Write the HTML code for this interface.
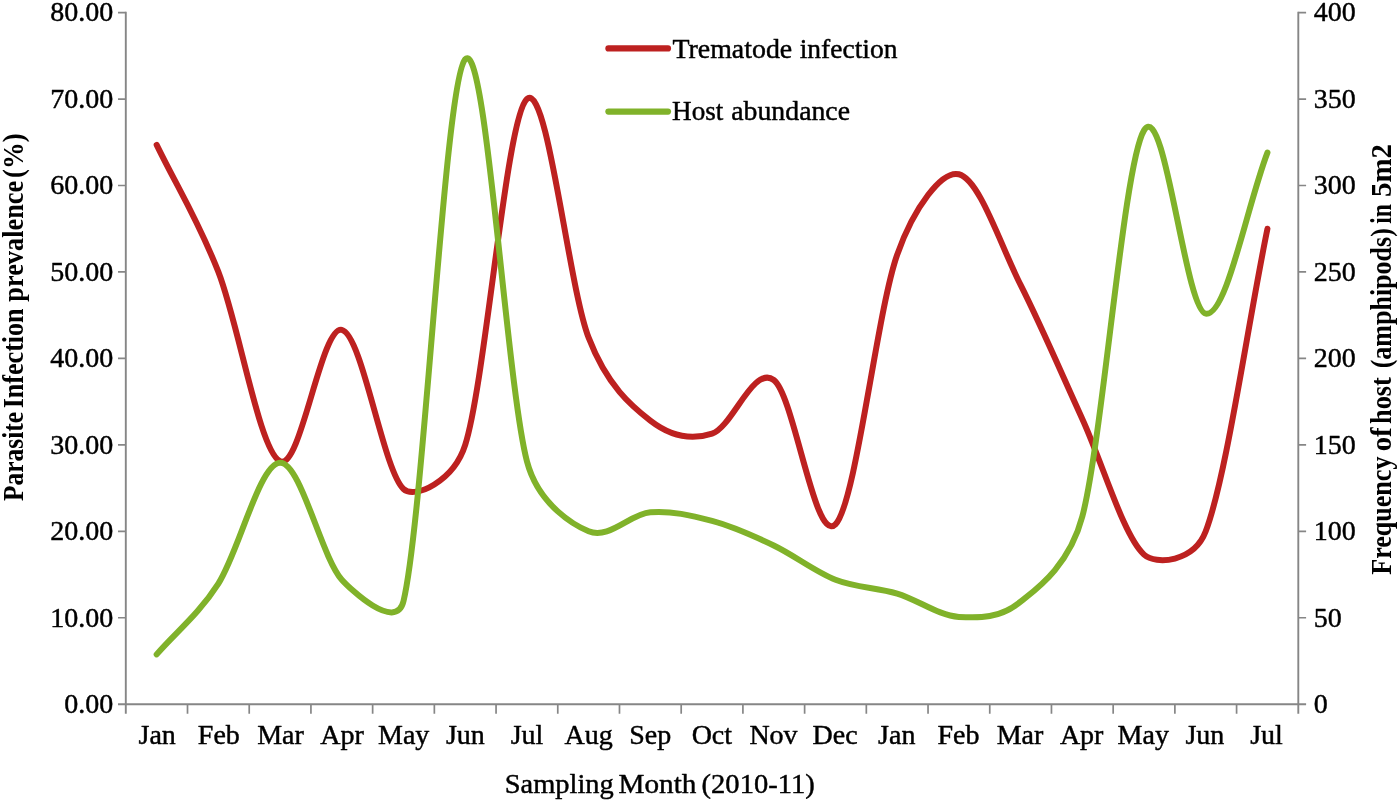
<!DOCTYPE html>
<html><head><meta charset="utf-8"><title>chart</title>
<style>
html,body{margin:0;padding:0;background:#fff;overflow:hidden;}
svg{display:block;will-change:transform;}
text{font-family:"Liberation Serif",serif;fill:#000;stroke:#000;stroke-linejoin:round;}
.l{font-size:28px;stroke-width:0.45;}
.t{stroke-width:0.00;}
</style></head><body>
<svg width="1400" height="802" viewBox="0 0 1400 802">
<rect width="1400" height="802" fill="#fff"/>
<g stroke="#868686" stroke-width="1.9" fill="none">
<path d="M125.80,11.80 V713.70"/>
<path d="M1298.30,11.80 V713.70"/>
<path d="M118.00,704.20 H1306.10"/>
</g>
<path d="M118.00,12.60 H125.80 M1298.30,12.60 H1306.10 M118.00,99.05 H125.80 M1298.30,99.05 H1306.10 M118.00,185.50 H125.80 M1298.30,185.50 H1306.10 M118.00,271.95 H125.80 M1298.30,271.95 H1306.10 M118.00,358.40 H125.80 M1298.30,358.40 H1306.10 M118.00,444.85 H125.80 M1298.30,444.85 H1306.10 M118.00,531.30 H125.80 M1298.30,531.30 H1306.10 M118.00,617.75 H125.80 M1298.30,617.75 H1306.10 M187.51,704.20 V713.70 M249.22,704.20 V713.70 M310.93,704.20 V713.70 M372.64,704.20 V713.70 M434.35,704.20 V713.70 M496.06,704.20 V713.70 M557.77,704.20 V713.70 M619.48,704.20 V713.70 M681.19,704.20 V713.70 M742.91,704.20 V713.70 M804.62,704.20 V713.70 M866.33,704.20 V713.70 M928.04,704.20 V713.70 M989.75,704.20 V713.70 M1051.46,704.20 V713.70 M1113.17,704.20 V713.70 M1174.88,704.20 V713.70 M1236.59,704.20 V713.70 " stroke="#868686" stroke-width="1.7" fill="none"/>
<path d="M156.66,144.87 C177.23,187.23 197.80,219.22 218.37,271.95 C238.94,324.68 259.51,451.62 280.08,461.28 C300.65,470.93 321.22,325.26 341.79,329.87 C362.36,334.48 382.93,469.78 403.50,488.94 C414.94,499.60 453.76,481.00 465.21,444.85 C485.78,379.87 506.35,116.92 526.92,99.05 C547.49,81.18 568.06,284.05 588.63,337.65 C607.16,385.93 631.81,406.24 650.34,420.64 C670.91,436.64 691.48,440.38 712.05,433.61 C732.62,426.84 753.19,364.88 773.76,380.01 C794.33,395.14 814.90,545.28 835.47,524.38 C856.04,503.49 876.61,313.01 897.18,254.66 C914.03,206.87 942.04,170.13 958.89,174.26 C979.46,179.30 1000.03,244.14 1020.60,284.92 C1041.17,325.69 1061.74,373.96 1082.31,418.92 C1102.88,463.87 1123.45,535.91 1144.02,554.64 C1155.71,565.28 1194.05,562.15 1205.73,531.30 C1226.30,476.98 1246.87,329.58 1267.44,228.73" fill="none" stroke="#bd2120" stroke-width="6.0" stroke-linecap="round" stroke-linejoin="round"/>
<path d="M156.66,654.40 C177.23,630.78 197.80,615.44 218.37,583.52 C238.94,551.59 259.51,463.47 280.08,462.83 C300.65,462.20 321.22,556.66 341.79,579.71 C349.32,588.16 395.96,632.93 403.50,601.15 C424.07,514.41 444.64,82.60 465.21,59.28 C485.78,35.97 506.35,382.61 526.92,461.28 C538.72,506.43 576.82,526.42 588.63,531.30 C609.20,539.80 629.77,514.01 650.34,512.28 C670.91,510.55 691.48,515.39 712.05,520.93 C732.62,526.46 753.19,535.68 773.76,545.48 C794.33,555.28 814.90,571.70 835.47,579.71 C856.04,587.72 876.61,587.35 897.18,593.54 C917.75,599.74 938.32,615.53 958.89,616.89 C979.46,618.24 1000.03,618.38 1020.60,601.67 C1033.91,590.85 1069.00,567.44 1082.31,516.60 C1102.88,438.05 1123.45,164.18 1144.02,130.34 C1164.59,96.51 1185.16,309.90 1205.73,313.62 C1226.30,317.34 1246.87,206.31 1267.44,152.65" fill="none" stroke="#80b22a" stroke-width="6.0" stroke-linecap="round" stroke-linejoin="round"/>
<path d="M608.4,48.4 H668.0" stroke="#bd2120" stroke-width="6.2" stroke-linecap="round"/>
<path d="M608.4,111.6 H668.0" stroke="#80b22a" stroke-width="6.2" stroke-linecap="round"/>
<text class="l" x="672.45" y="57.50" textLength="119.77" lengthAdjust="spacingAndGlyphs">Trematode</text>
<text class="l" x="799.67" y="57.50" textLength="97.88" lengthAdjust="spacingAndGlyphs">infection</text>
<text class="l" x="672.08" y="120.20" textLength="51.23" lengthAdjust="spacingAndGlyphs">Host</text>
<text class="l" x="731.29" y="120.20" textLength="118.72" lengthAdjust="spacingAndGlyphs">abundance</text>
<text class="l" x="504.82" y="793.10" textLength="108.94" lengthAdjust="spacingAndGlyphs">Sampling</text>
<text class="l" x="618.54" y="793.10" textLength="77.83" lengthAdjust="spacingAndGlyphs">Month</text>
<text class="l" x="701.58" y="793.10" textLength="113.12" lengthAdjust="spacingAndGlyphs">(2010-11)</text>
<text class="t" transform="translate(22.50,501.06) rotate(-90)" textLength="89.26" lengthAdjust="spacingAndGlyphs" font-weight="bold" font-size="29">Parasite</text>
<text class="t" transform="translate(22.50,408.28) rotate(-90)" textLength="99.84" lengthAdjust="spacingAndGlyphs" font-weight="bold" font-size="29">Infection</text>
<text class="t" transform="translate(22.50,301.66) rotate(-90)" textLength="120.79" lengthAdjust="spacingAndGlyphs" font-weight="bold" font-size="29">prevalence</text>
<text class="t" transform="translate(22.50,177.97) rotate(-90)" textLength="44.52" lengthAdjust="spacingAndGlyphs" font-weight="bold" font-size="29">(%)</text>
<text class="t" transform="translate(1391.20,574.66) rotate(-90)" textLength="118.06" lengthAdjust="spacingAndGlyphs" font-weight="bold" font-size="29">Frequency</text>
<text class="t" transform="translate(1391.20,451.26) rotate(-90)" textLength="23.87" lengthAdjust="spacingAndGlyphs" font-weight="bold" font-size="29">of</text>
<text class="t" transform="translate(1391.20,423.93) rotate(-90)" textLength="46.81" lengthAdjust="spacingAndGlyphs" font-weight="bold" font-size="29">host</text>
<text class="t" transform="translate(1391.20,368.34) rotate(-90)" textLength="140.16" lengthAdjust="spacingAndGlyphs" font-weight="bold" font-size="29">(amphipods)</text>
<text class="t" transform="translate(1391.20,223.87) rotate(-90)" textLength="19.72" lengthAdjust="spacingAndGlyphs" font-weight="bold" font-size="29">in</text>
<text class="t" transform="translate(1391.20,196.96) rotate(-90)" textLength="53.01" lengthAdjust="spacingAndGlyphs" font-weight="bold" font-size="29">5m2</text>
<text class="l" x="113.2" y="21.40" text-anchor="end">80.00</text>
<text class="l" x="113.2" y="107.85" text-anchor="end">70.00</text>
<text class="l" x="113.2" y="194.30" text-anchor="end">60.00</text>
<text class="l" x="113.2" y="280.75" text-anchor="end">50.00</text>
<text class="l" x="113.2" y="367.20" text-anchor="end">40.00</text>
<text class="l" x="113.2" y="453.65" text-anchor="end">30.00</text>
<text class="l" x="113.2" y="540.10" text-anchor="end">20.00</text>
<text class="l" x="113.2" y="626.55" text-anchor="end">10.00</text>
<text class="l" x="113.2" y="713.00" text-anchor="end">0.00</text>
<text class="l" x="1313.8" y="21.40">400</text>
<text class="l" x="1313.8" y="107.85">350</text>
<text class="l" x="1313.8" y="194.30">300</text>
<text class="l" x="1313.8" y="280.75">250</text>
<text class="l" x="1313.8" y="367.20">200</text>
<text class="l" x="1313.8" y="453.65">150</text>
<text class="l" x="1313.8" y="540.10">100</text>
<text class="l" x="1313.8" y="626.55">50</text>
<text class="l" x="1313.8" y="713.00">0</text>
<text class="l" x="157.20" y="743.6" text-anchor="middle">Jan</text>
<text class="l" x="218.83" y="743.6" text-anchor="middle">Feb</text>
<text class="l" x="280.46" y="743.6" text-anchor="middle">Mar</text>
<text class="l" x="342.09" y="743.6" text-anchor="middle">Apr</text>
<text class="l" x="403.72" y="743.6" text-anchor="middle">May</text>
<text class="l" x="465.35" y="743.6" text-anchor="middle">Jun</text>
<text class="l" x="526.98" y="743.6" text-anchor="middle">Jul</text>
<text class="l" x="588.61" y="743.6" text-anchor="middle">Aug</text>
<text class="l" x="650.24" y="743.6" text-anchor="middle">Sep</text>
<text class="l" x="711.87" y="743.6" text-anchor="middle">Oct</text>
<text class="l" x="773.50" y="743.6" text-anchor="middle">Nov</text>
<text class="l" x="835.13" y="743.6" text-anchor="middle">Dec</text>
<text class="l" x="896.76" y="743.6" text-anchor="middle">Jan</text>
<text class="l" x="958.39" y="743.6" text-anchor="middle">Feb</text>
<text class="l" x="1020.02" y="743.6" text-anchor="middle">Mar</text>
<text class="l" x="1081.65" y="743.6" text-anchor="middle">Apr</text>
<text class="l" x="1143.28" y="743.6" text-anchor="middle">May</text>
<text class="l" x="1204.91" y="743.6" text-anchor="middle">Jun</text>
<text class="l" x="1266.54" y="743.6" text-anchor="middle">Jul</text>
</svg>
</body></html>
